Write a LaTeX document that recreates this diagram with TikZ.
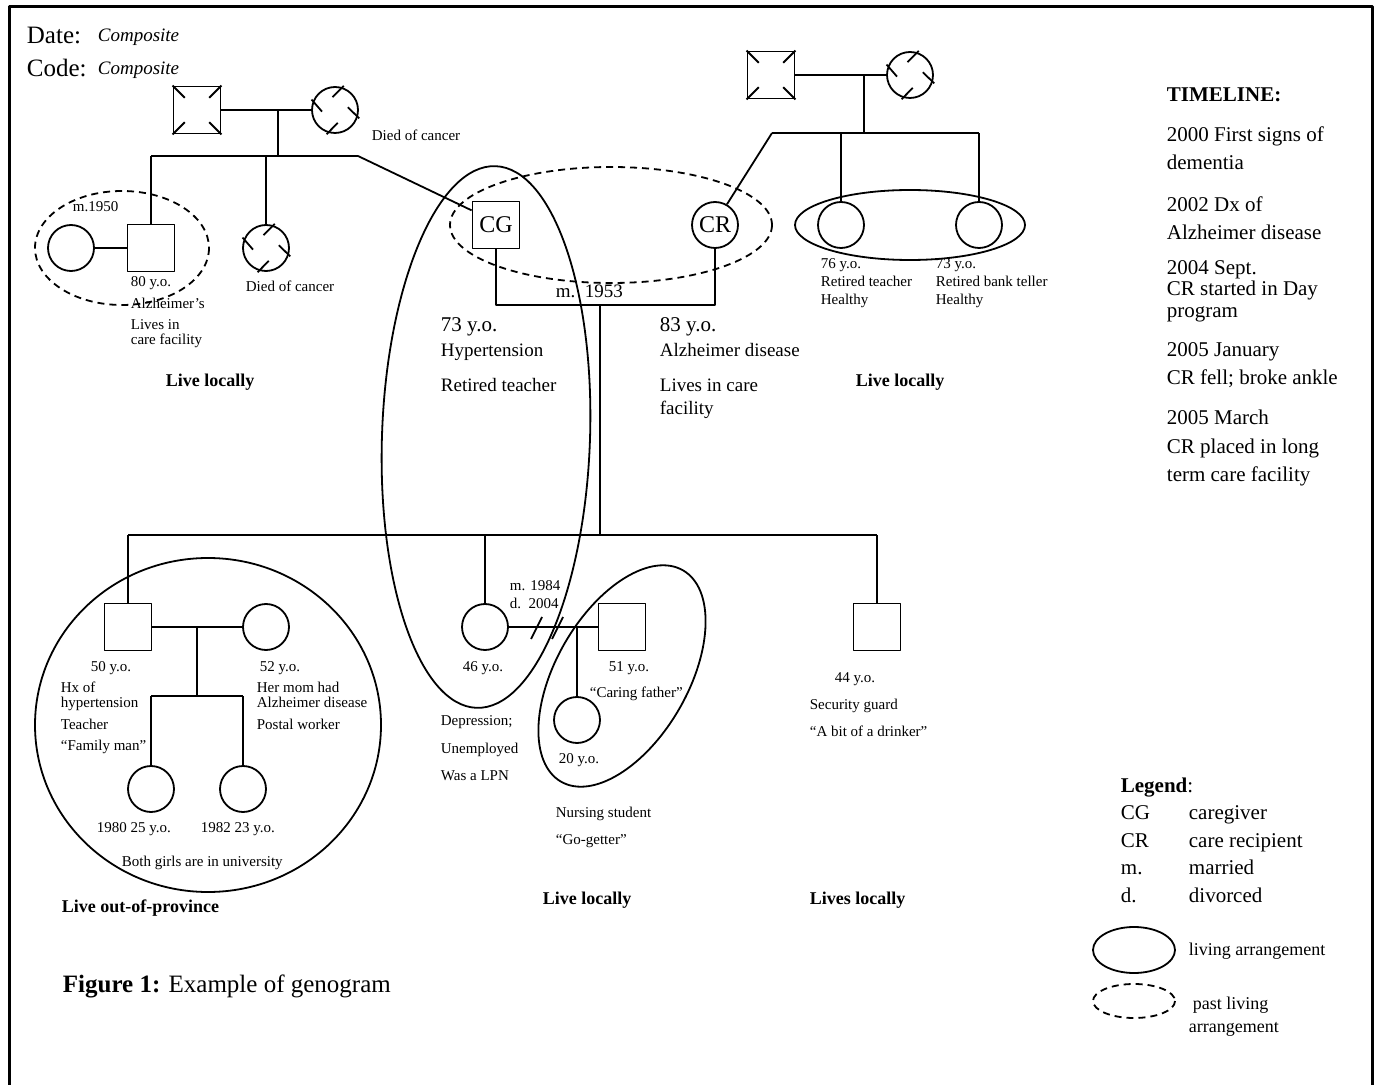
\documentclass[tikz,border=0pt]{standalone}
\usepackage{fontspec}
\setmainfont{Liberation Serif}
\usetikzlibrary{calc}
\tikzset{
  male/.style={draw, rectangle, minimum size=23.5pt, inner sep=0pt},
  female/.style={draw, circle, minimum size=23pt, inner sep=0pt},
  idx/.style={font=\fontsize{12}{12}\selectfont},
  past/.style={dash pattern=on 3.5pt off 2.5pt},
  note/.style={anchor=west, inner sep=0pt, text height=5pt, text depth=1.6pt,
    font=\fontsize{7.5}{8.5}\selectfont},
  info/.style={anchor=west, inner sep=0pt, text height=6.5pt, text depth=2pt,
    font=\fontsize{9.5}{11}\selectfont},
  age/.style={anchor=west, inner sep=0pt, font=\fontsize{10.5}{12}\selectfont},
  where/.style={anchor=west, inner sep=0pt, font=\fontsize{9}{10}\selectfont\bfseries},
  side/.style={anchor=west, inner sep=0pt, text height=7pt, text depth=2.2pt,
    font=\fontsize{10.5}{12}\selectfont},
  head/.style={anchor=west, inner sep=0pt, font=\fontsize{12.5}{14}\selectfont},
  tag/.style={anchor=west, inner sep=0pt, font=\fontsize{9.5}{11}\selectfont\itshape},
  every picture/.append style={line join=round}
}
% deceased marks
\newcommand{\deadsq}[1]{%
  \foreach \c in {north west,north east,south east,south west}
    \draw (#1.\c) -- ($(#1.\c)!0.5!(#1.center)$);}
\newcommand{\deadci}[1]{%
  \foreach \a in {158,72,-17,-107}
    \draw ($(#1.\a)+(\a-27:1pt)$) -- ($(#1.\a)+(\a-27:-7pt)$);}

\begin{document}
\begin{tikzpicture}[x=0.5pt, y=-0.5pt, line width=0.9pt]
  \useasboundingbox (0,0) rectangle (1376,1085);
  \draw[line width=1.5pt] (9,1095) -- (9,7) -- (1372,7) -- (1372,1095);

  \node[head] (date) at (26,35) {Date:};
  \node[tag] (datev) at (97,37) {Composite};
  \node[head] (code) at (26,68) {Code:};
  \node[tag] (codev) at (97,70) {Composite};

  % CG's parents and siblings
  \node[male] (pgf) at (197,110) {};
  \node[female] (pgm) at (335,110) {};
  \deadsq{pgf} \deadci{pgm}
  \draw (pgf) -- (pgm);
  \node[note] (pgmd) at (371,137) {Died of cancer};
  \coordinate (pm) at (278,110);
  \coordinate (pbar) at (278,156);
  \coordinate (pbl) at (151,156);
  \coordinate (pbr) at (358,156);
  \draw (pm) -- (pbar);
  \draw (pbl) -- (pbr);

  \node[male] (unc) at (151,248) {};
  \node[female] (uncw) at (71,248) {};
  \draw (uncw) -- (unc);
  \draw (pbl) -- (unc.north);
  \draw[past] (122,248) ellipse (87 and 57);
  \node[note] (uncm) at (72,208) {m.1950};
  \node[note] (unca) at (130,283) {80 y.o.};
  \node[note] (uncb) at (130,305) {Alzheimer’s};
  \node[note] (uncc) at (130,326) {Lives in};
  \node[note] (uncd) at (130,341) {care facility};

  \node[female] (aunt) at (266,248) {};
  \deadci{aunt}
  \draw (pbl -| aunt) -- (aunt.north);
  \node[note] (auntd) at (245,288) {Died of cancer};
  \node[where] (pll) at (165,382) {Live locally};

  % CR's parents and sisters
  \node[male] (mgf) at (771,75) {};
  \node[female] (mgm) at (910,75) {};
  \deadsq{mgf} \deadci{mgm}
  \draw (mgf) -- (mgm);
  \coordinate (mm) at (864,75);
  \coordinate (mbar) at (864,133);
  \coordinate (mbl) at (772,133);
  \coordinate (mbr) at (979,133);
  \draw (mm) -- (mbar);
  \draw (mbl) -- (mbr);

  \node[female] (sis1) at (841,225) {};
  \node[female] (sis2) at (979,225) {};
  \draw (mbl -| sis1) -- (sis1.north);
  \draw (mbr) -- (sis2.north);
  \draw (910,225) ellipse (115 and 35);
  \node[note] (sis1a) at (820,265) {76 y.o.};
  \node[note] (sis1b) at (820,283) {Retired teacher};
  \node[note] (sis1c) at (820,301) {Healthy};
  \node[note] (sis2a) at (935,265) {73 y.o.};
  \node[note] (sis2b) at (935,283) {Retired bank teller};
  \node[note] (sis2c) at (935,301) {Healthy};
  \node[where] (mll) at (855,382) {Live locally};

  % caregiver and care recipient
  \node[male, idx] (CG) at (496,225) {CG};
  \node[female, idx] (CR) at (715,225) {CR};
  \draw (pbr) -- ($(CG.north west)!0.2!(CG.south west)$);
  \draw (mbl) -- (CR.60);
  \coordinate (cgm) at (496,305);
  \coordinate (crm) at (715,305);
  \coordinate (cm) at (600,305);
  \draw (CG.south) -- (cgm) -- (crm) -- (CR.south);
  \draw[past] (611,225) ellipse (161 and 58);
  \node[info] (cmy) at (555,293) {m.\ \ 1953};
  \node[age] (cga) at (440,327) {73 y.o.};
  \node[info] (cgb) at (440,352) {Hypertension};
  \node[info] (cgc) at (440,387) {Retired teacher};
  \node[age] (cra) at (659,327) {83 y.o.};
  \node[info] (crb) at (659,352) {Alzheimer disease};
  \node[info] (crc) at (659,387) {Lives in care};
  \node[info] (crd) at (659,410) {facility};
  \draw[rotate around={-2:(486,437)}] (486,437) ellipse (104 and 271);

  % children
  \coordinate (kbar) at (600,535);
  \coordinate (kbl) at (128,535);
  \coordinate (kbr) at (877,535);
  \draw (cm) -- (kbar);
  \draw (kbl) -- (kbr);

  \node[male] (son) at (128,627) {};
  \node[female] (sonw) at (266,627) {};
  \draw (kbl) -- (son.north);
  \draw (son) -- (sonw);
  \coordinate (sm) at (197,627);
  \coordinate (sbar) at (197,696);
  \coordinate (sbl) at (151,696);
  \coordinate (sbr) at (243,696);
  \draw (sm) -- (sbar);
  \draw (sbl) -- (sbr);
  \node[female] (gd1) at (151,789) {};
  \node[female] (gd2) at (243,789) {};
  \draw (sbl) -- (gd1.north);
  \draw (sbr) -- (gd2.north);
  \draw (208,725) ellipse (173 and 167);
  \node[note] (sona) at (90,668) {50 y.o.};
  \node[note] (sonb) at (60,689) {Hx of};
  \node[note] (sonc) at (60,704) {hypertension};
  \node[note] (sond) at (60,726) {Teacher};
  \node[note] (sone) at (60,747) {“Family man”};
  \node[note] (sonwa) at (259,668) {52 y.o.};
  \node[note] (sonwb) at (256,689) {Her mom had};
  \node[note] (sonwc) at (256,704) {Alzheimer disease};
  \node[note] (sonwd) at (256,726) {Postal worker};
  \node[note] (gd1a) at (96,829) {1980 25 y.o.};
  \node[note] (gd2a) at (200,829) {1982 23 y.o.};
  \node[note] (gdb) at (121,863) {Both girls are in university};
  \node[where] (sonl) at (61,908) {Live out-of-province};

  \node[female] (dau) at (485,627) {};
  \node[male] (exh) at (622,627) {};
  \draw (kbl -| dau) -- (dau.north);
  \draw (dau) -- (exh);
  \draw (531,639) -- (542,617);
  \draw (552,639) -- (563,617);
  \coordinate (dm) at (577,627);
  \coordinate (dbar) at (577,697);
  \draw (dm) -- (dbar);
  \node[female] (gch) at (577,720) {};
  \draw (dbar) -- (gch.north);
  \draw[rotate around={-30:(622,676)}] (622,676) ellipse (66 and 122);
  \node[note] (dmy) at (509,587) {m. 1984};
  \node[note] (ddy) at (509,605) {d.\ \ 2004};
  \node[note] (daua) at (462,668) {46 y.o.};
  \node[note] (daub) at (440,722) {Depression;};
  \node[note] (dauc) at (440,750) {Unemployed};
  \node[note] (daud) at (440,777) {Was a LPN};
  \node[note] (exha) at (608,668) {51 y.o.};
  \node[note] (exhb) at (589,694) {“Caring father”};
  \node[note] (gcha) at (558,760) {20 y.o.};
  \node[note] (gchb) at (555,814) {Nursing student};
  \node[note] (gchc) at (555,841) {“Go-getter”};
  \node[where] (daul) at (542,900) {Live locally};

  \node[male] (son2) at (877,627) {};
  \draw (kbr) -- (son2.north);
  \node[note] (son2a) at (834,679) {44 y.o.};
  \node[note] (son2b) at (809,706) {Security guard};
  \node[note] (son2c) at (809,733) {“A bit of a drinker”};
  \node[where] (son2l) at (809,900) {Lives locally};

  % timeline
  \node[side, font=\fontsize{10.5}{12}\selectfont\bfseries] (tl) at (1166,97) {TIMELINE:};
  \foreach \y/\t [count=\i] in {137/{2000 First signs of}, 165/{dementia},
      207/{2002 Dx of}, 235/{Alzheimer disease}, 270/{2004 Sept.},
      291/{CR started in Day}, 313/{program}, 352/{2005 January},
      380/{CR fell; broke ankle}, 420/{2005 March},
      449/{CR placed in long}, 477/{term care facility}}
    \node[side] (tl\i) at (1166,\y) {\t};

  % legend
  \node[side] (lg) at (1120,788) {\textbf{Legend}:};
  \foreach \y/\k/\v [count=\i] in {815/CG/caregiver, 843/CR/care recipient,
      870/m./married, 898/d./divorced} {
    \node[side] (lk\i) at (1120,\y) {\k};
    \node[side] (lv\i) at (1188,\y) {\v};
  }
  \draw (1134,950) ellipse (41 and 23);
  \node[info, font=\fontsize{9}{10}\selectfont] (lsol) at (1188,951) {living arrangement};
  \draw[past] (1134,1001) ellipse (41 and 17);
  \node[info, font=\fontsize{9}{10}\selectfont] (lpa) at (1192,1005) {past living};
  \node[info, font=\fontsize{9}{10}\selectfont] (lpb) at (1188,1028) {arrangement};

  \node[head] (cap) at (62,986) {\textbf{Figure 1:} Example of genogram};
\end{tikzpicture}
\end{document}
